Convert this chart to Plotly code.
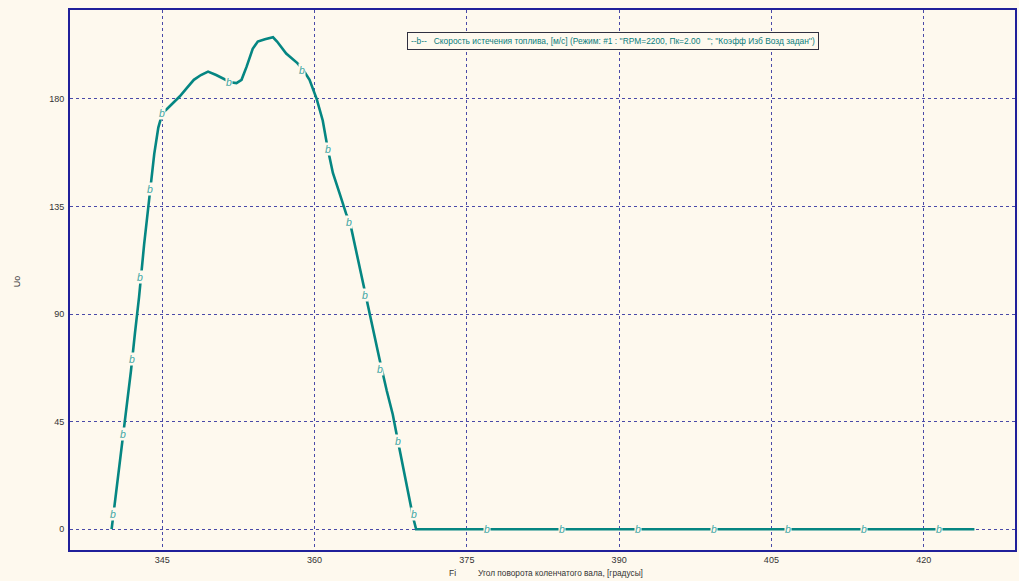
import plotly.graph_objects as go

# Crank angle, degrees
fi = [340.0, 340.4, 340.8, 341.1, 341.5, 341.9, 342.3, 342.7, 343.2, 343.7,
      344.2, 344.6, 345.0, 345.5, 346.0, 346.7, 347.4, 348.1, 348.8, 349.5,
      350.3, 351.1, 351.7, 352.3, 352.8, 353.3, 353.9, 354.4, 355.1, 355.9,
      356.3, 357.2, 358.3, 358.9, 359.5, 360.2, 360.8, 361.3, 361.8, 362.5,
      363.1, 363.5, 364.4, 365.0, 365.5, 366.4, 367.1, 367.7, 368.2, 368.8,
      369.3, 369.7, 370.0, 425.0]
# Fuel outflow velocity, m/s
uo = [0, 14, 26, 38, 51, 66, 82, 97, 119, 139,
      157, 168, 174, 176, 178, 181, 184.5, 188, 190, 191.4,
      190, 188.2, 187, 186.6, 188, 193.5, 201, 204, 205, 205.8,
      204, 199, 195, 192, 188, 180, 171, 159, 149, 140,
      132, 128, 110, 98, 89, 71, 58, 48, 37, 24,
      14, 5, 0, 0]

# Series marker ("b") positions along the curve
mark_fi = [340.1, 341.1, 342.0, 342.8, 343.75, 344.95, 351.55, 358.8, 361.3,
           363.4, 365.0, 366.45, 368.2, 369.8, 377.0, 384.4, 391.9, 399.3,
           406.6, 414.1, 421.5]
mark_uo = [6.5, 39.7, 71, 105.6, 142.4, 174.3, 187, 192.1, 159.2,
           128.7, 98, 67, 37, 6.2, 0, 0, 0, 0, 0, 0, 0]

x_ticks = [345, 360, 375, 390, 405, 420]
y_ticks = [0, 45, 90, 135, 180]

legend_text = ("--b--   Скорость истечения топлива, [м/с] (Режим: #1 : ''RPM=2200, "
               "Пк=2.00   ''; ''Коэфф Изб Возд задан'')")
x_title_sym = "Fi"
x_title = "Угол поворота коленчатого вала, [градусы]"
y_title = "Uo"

BG = "#FEF9EE"
FRAME = "#20209A"
GRID = "#4A4AA8"
LINE = "#058682"
MARK = "#3FA7A5"
FONT = "Liberation Sans"

fig = go.Figure()
fig.add_trace(go.Scatter(x=fi, y=uo, mode="lines",
                         line=dict(color=LINE, width=2.6),
                         hoverinfo="skip", showlegend=False))

annotations = []
for mx, my in zip(mark_fi, mark_uo):
    annotations.append(dict(x=mx, y=my, xref="x", yref="y", text="<i>b</i>",
                            showarrow=False, bgcolor=BG, borderpad=0,
                            font=dict(family=FONT, size=10.5, color=MARK)))

annotations += [
    dict(x=0.357, y=0.9426, xref="paper", yref="paper", xanchor="left",
         yanchor="middle", text=legend_text, showarrow=False,
         bgcolor=BG, bordercolor="#303040", borderwidth=1, borderpad=3,
         font=dict(family=FONT, size=8.4, color="#0A7C7C")),
    dict(x=0.399, y=-0.0426, xref="paper", yref="paper", xanchor="left",
         yanchor="middle", text=x_title_sym, showarrow=False,
         font=dict(family=FONT, size=8.5, color="#333333")),
    dict(x=0.4298, y=-0.0426, xref="paper", yref="paper", xanchor="left",
         yanchor="middle", text=x_title, showarrow=False,
         font=dict(family=FONT, size=8.3, color="#333333")),
    dict(x=-0.056, y=0.498, xref="paper", yref="paper", xanchor="center",
         yanchor="middle", text=y_title, showarrow=False, textangle=-90,
         font=dict(family=FONT, size=9, color="#333333")),
]

axis_common = dict(showline=True, linewidth=2, linecolor=FRAME, mirror=True,
                   showgrid=True, gridcolor=GRID, gridwidth=1, griddash="dot",
                   zeroline=False, ticks="", fixedrange=True,
                   tickfont=dict(family=FONT, size=9, color="#333333"))

fig.update_layout(
    width=1019, height=581,
    margin=dict(l=70, r=2, t=10, b=31),
    paper_bgcolor=BG, plot_bgcolor=BG,
    xaxis=dict(range=[335.9, 429.0], tickvals=x_ticks, ticklabelstandoff=0,
               **axis_common),
    yaxis=dict(range=[-8.7, 217.2], tickvals=y_ticks, ticklabelstandoff=2,
               **axis_common),
    annotations=annotations,
    showlegend=False,
)

fig.write_html("out.html", config={"displayModeBar": False})
